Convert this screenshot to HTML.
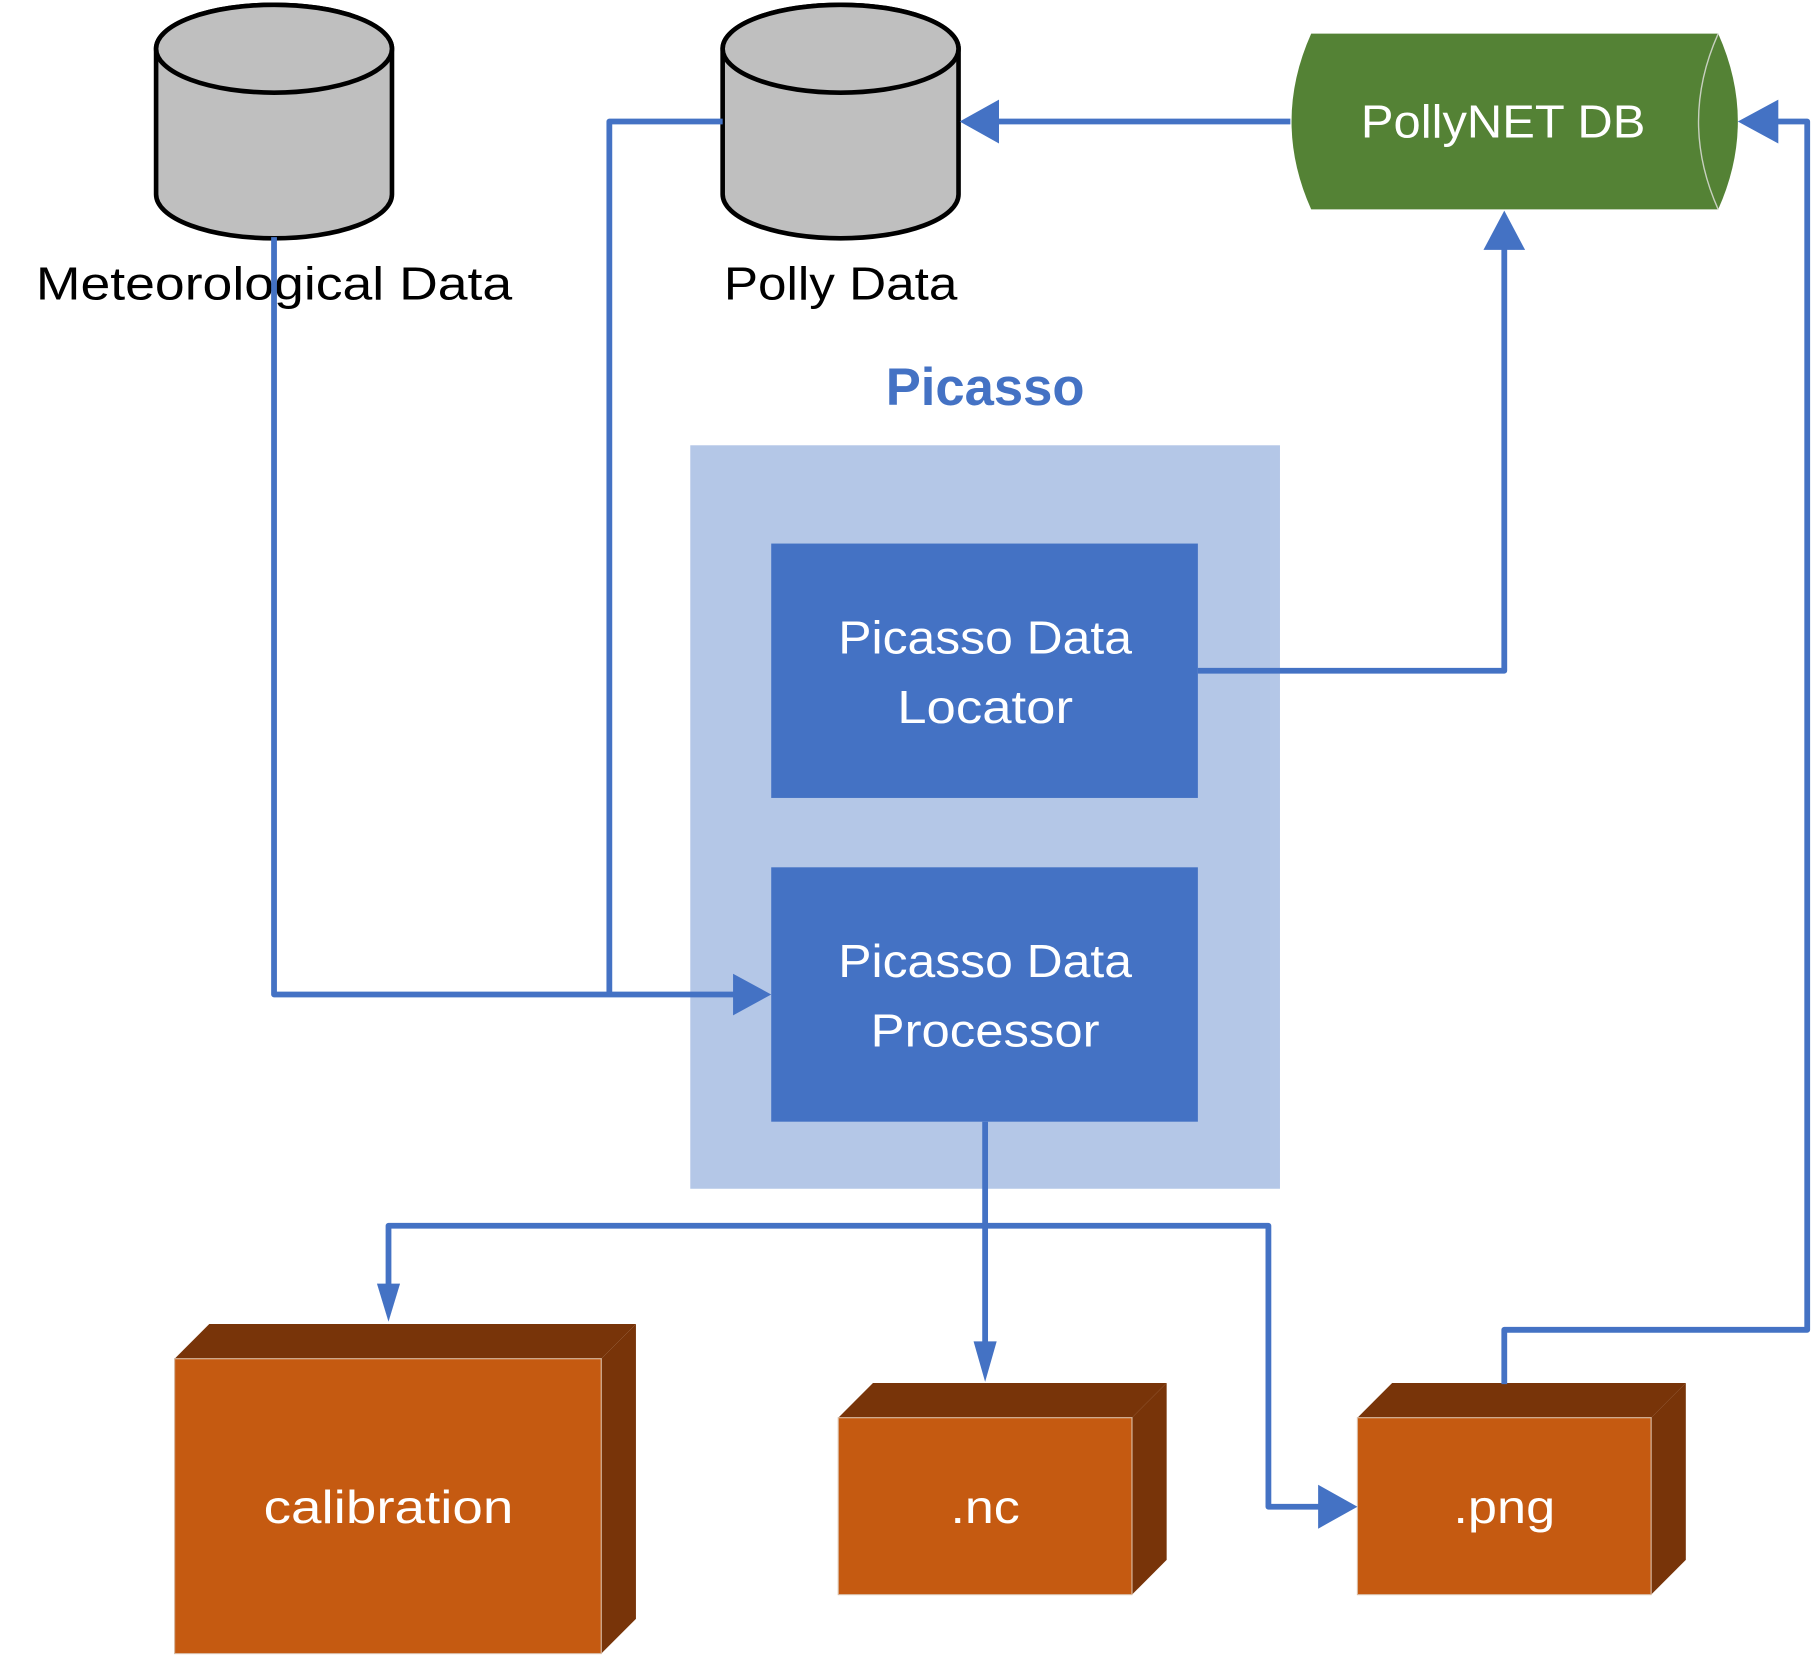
<!DOCTYPE html>
<html><head><style>html,body{margin:0;padding:0;background:#fff}svg{display:block}</style></head>
<body>
<svg width="1813" height="1656" viewBox="0 0 1568 1432" xmlns="http://www.w3.org/2000/svg" font-family="'Liberation Sans', sans-serif">
<!-- cylinders -->
<g fill="#bfbfbf" stroke="#000" stroke-width="4">
<path d="M135,42 L135,168 A102,38 0 0 0 339,168 L339,42 A102,38 0 0 0 135,42 Z"/>
<ellipse cx="237" cy="42" rx="102" ry="38"/>
<path d="M625,42 L625,168 A102,38 0 0 0 829,168 L829,42 A102,38 0 0 0 625,42 Z"/>
<ellipse cx="727" cy="42" rx="102" ry="38"/>
</g>
<text x="237" y="259" font-size="40" text-anchor="middle" textLength="412" lengthAdjust="spacingAndGlyphs" fill="#000">Meteorological Data</text>
<text x="727" y="259" font-size="40" text-anchor="middle" textLength="202" lengthAdjust="spacingAndGlyphs" fill="#000">Polly Data</text>
<!-- PollyNET DB -->
<path d="M1134,29 L1486,29 Q1520,105 1486,181 L1134,181 Q1100,105 1134,29 Z" fill="#548235"/>
<path d="M1486,29 Q1452,105 1486,181" fill="none" stroke="#c8d0c0" stroke-width="1.2"/>
<text x="1300" y="119" font-size="40" fill="#fff" text-anchor="middle" textLength="246" lengthAdjust="spacingAndGlyphs">PollyNET DB</text>
<!-- Picasso -->
<text x="852" y="350" font-size="46" font-weight="bold" fill="#4472c4" text-anchor="middle" textLength="172" lengthAdjust="spacingAndGlyphs">Picasso</text>
<rect x="597" y="385" width="510" height="643" fill="#b4c7e7"/>
<rect x="667" y="470" width="369" height="220" fill="#4472c4"/>
<rect x="667" y="750" width="369" height="220" fill="#4472c4"/>
<g fill="#fff" font-size="40" text-anchor="middle">
<text x="852" y="565" textLength="254" lengthAdjust="spacingAndGlyphs">Picasso Data</text>
<text x="852" y="625" textLength="152" lengthAdjust="spacingAndGlyphs">Locator</text>
<text x="852" y="845" textLength="254" lengthAdjust="spacingAndGlyphs">Picasso Data</text>
<text x="852" y="905" textLength="198" lengthAdjust="spacingAndGlyphs">Processor</text>
</g>
<!-- boxes -->
<g>
<polygon points="151,1175 181,1145 550,1145 520,1175" fill="#783409"/>
<polygon points="520,1175 550,1145 550,1400 520,1430" fill="#783409"/>
<rect x="151" y="1175" width="369" height="255" fill="#c55a11" stroke="#d9b9a0" stroke-width="1"/>
<polygon points="725,1226 755,1196 1009,1196 979,1226" fill="#783409"/>
<polygon points="979,1226 1009,1196 1009,1349 979,1379" fill="#783409"/>
<rect x="725" y="1226" width="254" height="153" fill="#c55a11" stroke="#d9b9a0" stroke-width="1"/>
<polygon points="1174,1226 1204,1196 1458,1196 1428,1226" fill="#783409"/>
<polygon points="1428,1226 1458,1196 1458,1349 1428,1379" fill="#783409"/>
<rect x="1174" y="1226" width="254" height="153" fill="#c55a11" stroke="#d9b9a0" stroke-width="1"/>
</g>
<g fill="#fff" font-size="40" text-anchor="middle">
<text x="336" y="1317" textLength="216" lengthAdjust="spacingAndGlyphs">calibration</text>
<text x="852" y="1317" textLength="60" lengthAdjust="spacingAndGlyphs">.nc</text>
<text x="1301" y="1317" textLength="88" lengthAdjust="spacingAndGlyphs">.png</text>
</g>
<!-- connectors -->
<g fill="none" stroke="#4472c4" stroke-width="5" stroke-linejoin="round">
<polyline points="625,105 527,105 527,860"/>
<polyline points="237,205 237,860 637,860"/>
<polyline points="1116,105 862,105"/>
<polyline points="1036,580 1301,580 1301,214"/>
<polyline points="1301,1197 1301,1150 1563,1150 1563,105 1537,105"/>
<polyline points="852,970 852,1162"/>
<polyline points="852,1060 336,1060 336,1112"/>
<polyline points="852,1060 1097,1060 1097,1303 1141,1303"/>
</g>
<g fill="#4472c4">
<polygon points="667,860 634,842 634,878"/>
<polygon points="830,105 864,86 864,124"/>
<polygon points="1301,182 1283,216 1319,216"/>
<polygon points="1503,105 1538,86 1538,124"/>
<polygon points="852,1195 842,1160 862,1160"/>
<polygon points="336,1143 326,1110 346,1110"/>
<polygon points="1174,1303 1140,1284 1140,1322"/>
</g>
</svg>
</body></html>
